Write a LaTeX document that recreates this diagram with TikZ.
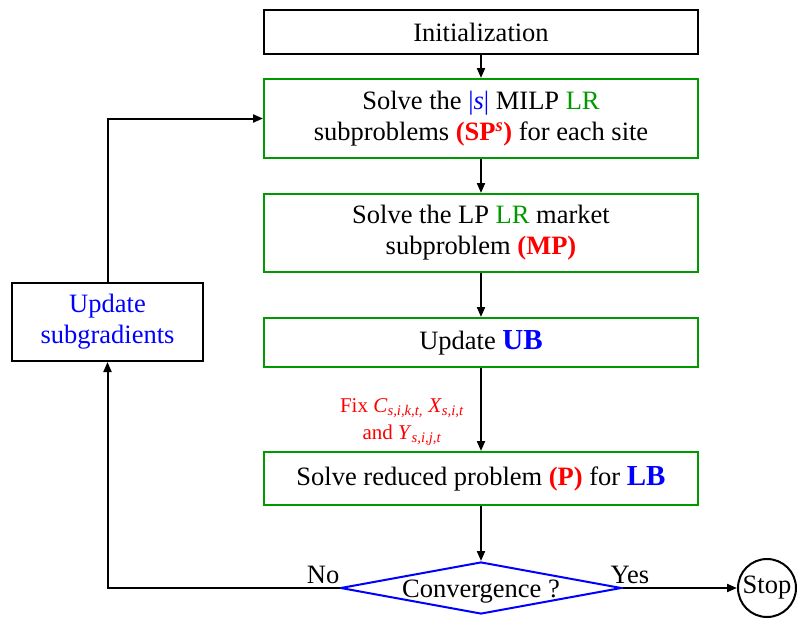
\documentclass[tikz,border=0pt]{standalone}
\usepackage{fontspec}
\setmainfont{Liberation Serif}
\usetikzlibrary{shapes.geometric,arrows.meta}
\definecolor{mygreen}{RGB}{0,153,0}
\definecolor{myblue}{RGB}{0,0,255}
\definecolor{myred}{RGB}{255,0,0}
\begin{document}
\begin{tikzpicture}[x=1pt,y=-1pt,
  mainfont/.style={font=\fontsize{26.5}{31}\selectfont},
  box/.style={draw, line width=2pt, minimum width=434pt, inner sep=0pt, align=center, mainfont},
  gbox/.style={box, draw=mygreen},
  kbox/.style={box, draw=black},
  arr/.style={line width=2pt, -{Triangle[length=10pt,width=8pt]}},
  lbl/.style={mainfont, inner sep=0pt}
]
\useasboundingbox (0,0) rectangle (801,619);
\node[kbox, minimum height=44pt] (init) at (481,32) {Initialization};
\node[gbox, minimum height=79pt] (sp) at (481,118.5) {Solve the \textcolor{myblue}{|\textit{s}|} MILP \textcolor{mygreen}{LR}\\subproblems \textcolor{myred}{\textbf{(SP\textsuperscript{\textit{s}})}} for each site};
\node[gbox, minimum height=78pt] (mp) at (481,233) {Solve the LP \textcolor{mygreen}{LR} market\\subproblem \textcolor{myred}{\textbf{(MP)}}};
\node[gbox, minimum height=49pt] (ub) at (481,342.5) {Update \textcolor{myblue}{\fontsize{29}{31}\selectfont\textbf{UB}}};
\node[gbox, minimum height=53pt] (lb) at (481,478.5) {Solve reduced problem \textcolor{myred}{\textbf{(P)}} for \textcolor{myblue}{\fontsize{29}{31}\selectfont\textbf{LB}}};
\node[diamond, draw=myblue, line width=2pt, minimum width=281pt, minimum height=52pt, inner sep=0pt] (conv) at (481,588) {};
\node[lbl] (convtext) at (481,592) {Convergence ?};
\node[circle, draw, line width=2pt, minimum size=58pt, inner sep=0pt, mainfont] (stop) at (767,588) {Stop};
\node[kbox, minimum width=191pt, minimum height=78pt, text=myblue] (sub) at (107.5,322) {Update\\subgradients};
\node[text=myred, font=\fontsize{21}{27}\selectfont, align=center, inner sep=0pt] (fix) at (402,422) {Fix \textit{C}\textsubscript{\textit{s,i,k,t,}} \textit{X}\textsubscript{\textit{s,i,t}}\\and \textit{Y}\textsubscript{\textit{s,i,j,t}}};
\node[lbl, anchor=base east] (no) at ([yshift=5pt]conv.west) {No};
\node[lbl, anchor=base west] (yes) at ([xshift=-12pt,yshift=5pt]conv.east) {Yes};
\draw[arr] (init) -- (sp);
\draw[arr] (sp) -- (mp);
\draw[arr] (mp) -- (ub);
\draw[arr] (ub) -- (lb);
\draw[arr] (lb) -- (conv);
\draw[arr] (conv.east) -- (stop.west);
\draw[arr] (conv.west) -| (sub.south);
\draw[arr] (sub.north) |- (sp.west);
\end{tikzpicture}
\end{document}
